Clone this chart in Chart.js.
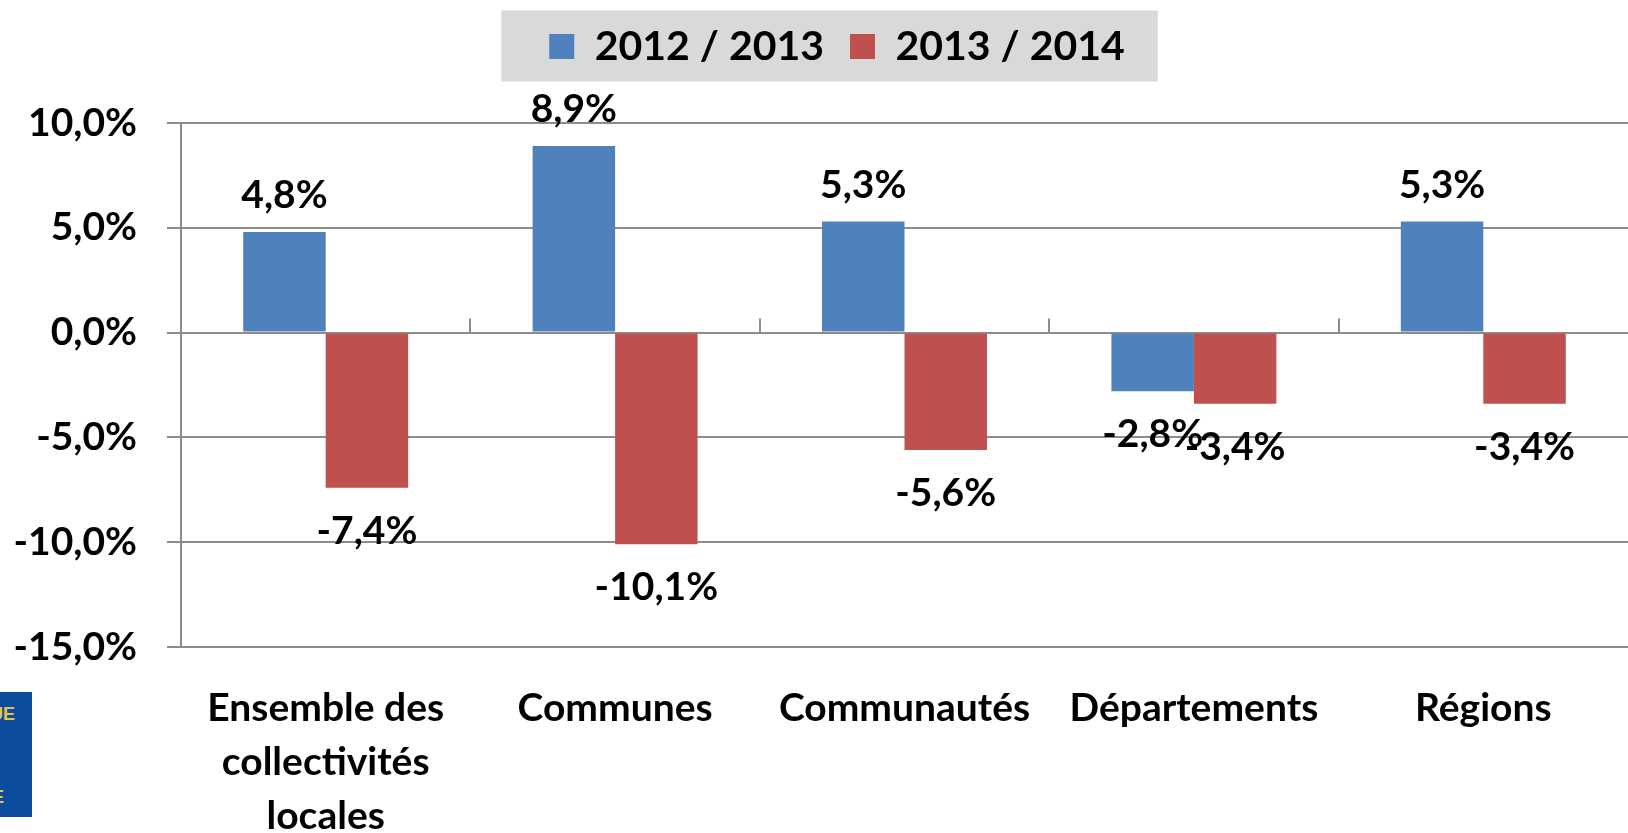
<!DOCTYPE html>
<html lang="fr">
<head>
<meta charset="utf-8">
<title>Évolution 2012-2014</title>
<script src="https://cdn.jsdelivr.net/npm/chart.js@4/dist/chart.umd.min.js"></script>
<style>
  body { margin: 0; background: #fff; }
  #wrap { position: relative; width: 1628px; height: 833px; }
  #logo {
    position: absolute; left: 0; top: 692px; width: 32px; height: 125px;
    background: #0b4c9f; overflow: hidden;
    font: bold 18px 'Liberation Sans', sans-serif; color: #e3c44a;
  }
  #logo span { position: absolute; white-space: nowrap; }
</style>
</head>
<body>
<div id="wrap">
  <canvas id="chart"></canvas>
  <div id="logo"><span style="right:17px;top:12px">UE</span><span style="right:28px;top:95px">E</span></div>
</div>
<script>
// data
const categories = [['Ensemble des', 'collectivités', 'locales'], 'Communes', 'Communautés', 'Départements', 'Régions'];
const seriesNames = ['2012 / 2013', '2013 / 2014'];
const values1213 = [4.8, 8.9, 5.3, -2.8, 5.3];
const values1314 = [-7.4, -10.1, -5.6, -3.4, -3.4];
const yTicks = [-15, -10, -5, 0, 5, 10];

const gridColor = '#8c8c8c';
const fmt = v => v.toFixed(1).replace('.', ',') + '%';

Chart.defaults.font.family = 'Lato, sans-serif';
Chart.defaults.font.weight = 'bold';
Chart.defaults.color = '#000';

// grey box behind the legend, extra room under it, legend nudged right
const legendShift = 37;
const legendBox = {
  id: 'legendBox',
  beforeInit(chart) {
    const fit = chart.legend.fit;
    chart.legend.fit = function () {
      fit.call(this);
      this.height = 123;
    };
  },
  afterUpdate(chart) {
    chart.legend.left += legendShift;
    (chart.legend.legendHitBoxes || []).forEach(h => { h.left += legendShift / 2; });
  },
  beforeDraw(chart) {
    const hb = chart.legend.legendHitBoxes;
    if (!hb || !hb.length) return;
    const first = hb[0], last = hb[hb.length - 1];
    const cy = first.top + first.height / 2;
    const ctx = chart.ctx;
    ctx.save();
    ctx.fillStyle = '#d9d9d9';
    ctx.fillRect(first.left - 48, cy - 36, last.left + last.width - first.left + 81, 71);
    ctx.restore();
  }
};

// small tick marks between categories on the zero line
const catTicks = {
  id: 'catTicks',
  beforeDatasetsDraw(chart) {
    const x = chart.scales.x, y = chart.scales.y;
    const y0 = y.getPixelForValue(0);
    const ctx = chart.ctx;
    ctx.save();
    ctx.strokeStyle = gridColor;
    ctx.lineWidth = 2;
    ctx.beginPath();
    for (let i = 1; i < categories.length; i++) {
      const px = Math.round((x.getPixelForTick(i - 1) + x.getPixelForTick(i)) / 2);
      ctx.moveTo(px, y0);
      ctx.lineTo(px, y0 - 14);
    }
    ctx.stroke();
    ctx.restore();
  }
};

// value labels above / below the bars
const barLabels = {
  id: 'barLabels',
  afterDatasetsDraw(chart) {
    const ctx = chart.ctx;
    ctx.save();
    ctx.font = 'bold 39px Lato, sans-serif';
    ctx.fillStyle = '#000';
    ctx.textAlign = 'center';
    ctx.textBaseline = 'alphabetic';
    chart.data.datasets.forEach((ds, i) => {
      chart.getDatasetMeta(i).data.forEach((bar, j) => {
        const v = ds.data[j];
        ctx.fillText(fmt(v), bar.x, v >= 0 ? bar.y - 24 : bar.y + 56);
      });
    });
    ctx.restore();
  }
};

new Chart(document.getElementById('chart'), {
  type: 'bar',
  data: {
    labels: categories,
    datasets: [
      { label: seriesNames[0], data: values1213, backgroundColor: '#4f81bd' },
      { label: seriesNames[1], data: values1314, backgroundColor: '#c0504d' }
    ]
  },
  options: {
    responsive: true,
    maintainAspectRatio: false,
    animation: false,
    layout: { padding: { left: 0, right: -9, top: 0, bottom: 0 } },
    datasets: { bar: { categoryPercentage: 0.57, barPercentage: 1 } },
    plugins: {
      legend: {
        position: 'top',
        labels: { boxWidth: 25, boxHeight: 25, padding: 26, font: { size: 41, weight: 'bold' } }
      },
      tooltip: { enabled: false }
    },
    scales: {
      x: {
        grid: { display: false, drawTicks: false },
        border: { display: false },
        ticks: { padding: 34, maxRotation: 0, autoSkip: false, font: { size: 39, weight: 'bold', lineHeight: 1.385 } },
        afterFit(s) { s.height = 186; }
      },
      y: {
        min: -15,
        max: 10,
        afterBuildTicks(s) { s.ticks = yTicks.map(v => ({ value: v })); },
        grid: { color: gridColor, lineWidth: 2, tickLength: 14 },
        border: { color: gridColor, width: 2 },
        ticks: { padding: 30, font: { size: 39, weight: 'bold' }, callback: v => fmt(v) },
        afterFit(s) { s.width = 181; }
      }
    }
  },
  plugins: [legendBox, catTicks, barLabels]
});
</script>
</body>
</html>
